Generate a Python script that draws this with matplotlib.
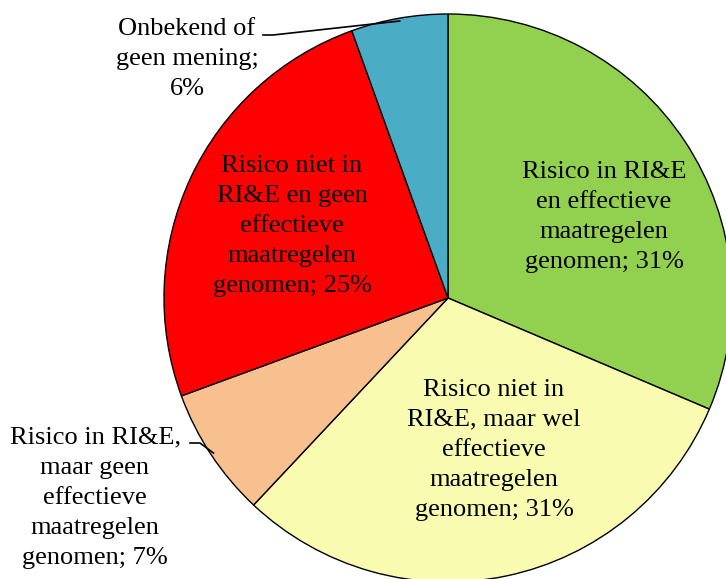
import numpy as np
import matplotlib
matplotlib.use("Agg")
import matplotlib.pyplot as plt

# data
labels = ["Risico in RI&E\nen effectieve\nmaatregelen\ngenomen",
          "Risico niet in\nRI&E, maar wel\neffectieve\nmaatregelen\ngenomen",
          "Risico in RI&E,\nmaar geen\neffectieve\nmaatregelen\ngenomen",
          "Risico niet in\nRI&E en geen\neffectieve\nmaatregelen\ngenomen",
          "Onbekend of\ngeen mening;"]
shares = [31.4, 30.6, 7.4, 25.1, 5.5]
pct_labels = ["31%", "31%", "7%", "25%", "6%"]
colors = ["#92D050", "#F9FCB0", "#F9C08F", "#FF0000", "#4BACC6"]

plt.rcParams['font.family'] = ['Liberation Serif', 'DejaVu Serif']

fig = plt.figure(figsize=(7.26, 5.79), dpi=100)
ax = fig.add_axes([0, 0, 1, 1])

cx, cy, r = 448, 281, 284
wedges, _ = ax.pie(shares, colors=colors, startangle=90, counterclock=False,
                   center=(cx, cy), radius=r, frame=True,
                   wedgeprops=dict(edgecolor='black', linewidth=1.0))
ax.set_xlim(0, 726)
ax.set_ylim(0, 579)
ax.axis('off')

fs = 19
ls = 1.48
# labels inside
ax.text(604, 579 - 217, labels[0] + "; " + pct_labels[0], ha='center', va='center',
        fontsize=fs, linespacing=ls)
ax.text(494, 579 - 450, labels[1] + "; " + pct_labels[1], ha='center', va='center',
        fontsize=fs, linespacing=ls)
ax.text(292, 579 - 226, labels[3] + "; " + pct_labels[3], ha='center', va='center',
        fontsize=fs, linespacing=ls)
# labels outside
ax.text(95, 579 - 498, labels[2] + "; " + pct_labels[2], ha='center', va='center',
        fontsize=fs, linespacing=ls)
ax.text(187, 579 - 59, labels[4] + "\n" + pct_labels[4], ha='center', va='center',
        fontsize=fs, linespacing=ls)

# leader lines
def mid_point(w, frac=0.99):
    a = np.deg2rad((w.theta1 + w.theta2) / 2)
    return cx + r * frac * np.cos(a), cy + r * frac * np.sin(a)

px, py = mid_point(wedges[4])
ax.plot([263, 273, px], [579 - 35, 579 - 35, py], color='black', lw=1.2)
px, py = mid_point(wedges[2])
ax.plot([190, 200, px], [579 - 443, 579 - 443, py], color='black', lw=1.2)

fig.savefig("out.png", dpi=100)
